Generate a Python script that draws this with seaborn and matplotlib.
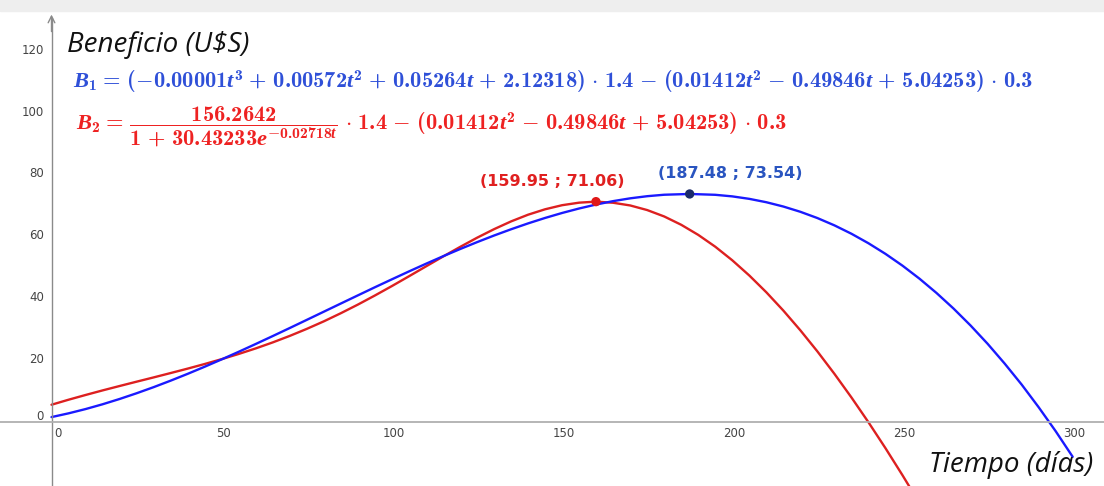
import matplotlib
matplotlib.use("Agg")
import matplotlib.pyplot as plt
import seaborn as sns
import pandas as pd
from matplotlib.patches import Rectangle

# ---- data ----
t_red = [0, 5, 10, 15, 20, 25, 30, 35, 40, 45, 50, 55, 60, 65, 70, 75, 80, 85, 90, 95,
         100, 105, 110, 115, 120, 125, 130, 135, 140, 145, 150, 155, 159.95, 165, 170,
         175, 180, 185, 190, 195, 200, 205, 210, 215, 220, 225, 230, 235, 240, 245,
         250, 255, 260]
b_red = [5.45, 7.07, 8.60, 10.08, 11.50, 12.90, 14.28, 15.69, 17.12, 18.61, 20.18,
         21.86, 23.65, 25.59, 27.69, 29.96, 32.39, 35.02, 37.80, 40.74, 43.79, 46.94,
         50.13, 53.31, 56.41, 59.39, 62.16, 64.67, 66.84, 68.59, 69.91, 70.73, 71.06,
         70.70, 69.83, 68.34, 66.27, 63.58, 60.32, 56.50, 52.11, 47.20, 41.78, 35.87,
         29.49, 22.68, 15.44, 7.81, -0.2, -8.58, -17.32, -26.37, -35.76]
t_blue = [0, 5, 10, 15, 20, 25, 30, 35, 40, 45, 50, 55, 60, 65, 70, 75, 80, 85, 90, 95,
          100, 105, 110, 115, 120, 125, 130, 135, 140, 145, 150, 155, 160, 165, 170,
          175, 180, 187.48, 195, 200, 205, 210, 215, 220, 225, 230, 235, 240, 245,
          250, 255, 260, 265, 270, 275, 280, 285, 290, 295, 300]
b_blue = [1.46, 2.67, 4.05, 5.60, 7.31, 9.16, 11.13, 13.23, 15.43, 17.73, 20.11,
          22.56, 25.08, 27.64, 30.24, 32.87, 35.51, 38.15, 40.78, 43.40, 45.97, 48.51,
          50.99, 53.40, 55.73, 57.97, 60.11, 62.13, 64.03, 65.79, 67.40, 68.85, 70.13,
          71.23, 72.13, 72.82, 73.29, 73.54, 73.27, 72.76, 71.96, 70.87, 69.48, 67.78,
          65.76, 63.40, 60.69, 57.62, 54.19, 50.38, 46.17, 41.55, 36.52, 31.05, 25.15,
          18.77, 11.98, 4.65, -3.09, -11.37]
max_red = (159.95, 71.06)
max_blue = (187.48, 73.54)
label_red = "(159.95 ; 71.06)"
label_blue = "(187.48 ; 73.54)"
x_ticks = [0, 50, 100, 150, 200, 250, 300]
y_ticks = [0, 20, 40, 60, 80, 100, 120]
y_title = "Beneficio (U$S)"
x_title = "Tiempo (días)"
f_blue = (r"$B_1\,=\,(-0.00001t^3\,+\,0.00572t^2\,+\,0.05264t\,+\,2.12318)\,\cdot\,1.4"
          r"\,-\,(0.01412t^2\,-\,0.49846t\,+\,5.04253)\,\cdot\,0.3$")
f_red = (r"$B_2\,=\,\dfrac{156.2642}{1\,+\,30.43233e^{-0.02718t}}\,\cdot\,1.4"
         r"\,-\,(0.01412t^2\,-\,0.49846t\,+\,5.04253)\,\cdot\,0.3$")

sns.set_theme(style="white")
plt.rcParams["font.family"] = ["DejaVu Sans"]
plt.rcParams["mathtext.fontset"] = "custom"
plt.rcParams["mathtext.rm"] = "cmb10"
plt.rcParams["mathtext.bf"] = "cmb10"
plt.rcParams["mathtext.it"] = "Liberation Serif:italic:bold"
plt.rcParams["mathtext.fallback"] = "cm"

RED = "#dd2020"
BLUE = "#1a1aff"

df = pd.concat([
    pd.DataFrame({"t": t_red, "B": b_red, "serie": "B2"}),
    pd.DataFrame({"t": t_blue, "B": b_blue, "serie": "B1"}),
])

fig = plt.figure(figsize=(11.04, 4.86), dpi=100)
ax = fig.add_axes([0, 0, 1, 1])
ax.set_xlim(-15.13, 309.2)
ax.set_ylim(-20.8, 136.2)

sns.lineplot(data=df, x="t", y="B", hue="serie", palette={"B1": BLUE, "B2": RED},
             sort=False, estimator=None, legend=False, linewidth=1.7, ax=ax)

pts = pd.DataFrame({"t": [max_red[0], max_blue[0]], "B": [max_red[1], max_blue[1]],
                    "serie": ["B2", "B1"]})
sns.scatterplot(data=pts, x="t", y="B", hue="serie",
                palette={"B1": "#1a2a6a", "B2": "#e01818"}, s=45, legend=False,
                zorder=5, ax=ax, edgecolor="none")

# axes through origin
for s in ["top", "right"]:
    ax.spines[s].set_visible(False)
ax.spines["left"].set_position(("data", 0))
ax.spines["bottom"].set_position(("data", 0))
ax.spines["left"].set_color("#8a8a8a")
ax.spines["bottom"].set_color("#b0b0b0")
ax.spines["left"].set_bounds(-20.8, 130.5)
ax.spines["left"].set_linewidth(1.0)
ax.spines["bottom"].set_linewidth(1.3)
ax.set_xticks(x_ticks)
ax.set_yticks(y_ticks)
ax.tick_params(labelleft=False, labelbottom=False, length=3, width=0.8,
               color="#999999", direction="inout")
ax.set_xlabel("")
ax.set_ylabel("")
ax.annotate("", xy=(0, 131.5), xytext=(0, 126),
            arrowprops=dict(arrowstyle="->", color="#8a8a8a", lw=1.0,
                            shrinkA=0, shrinkB=0))

for v in x_ticks:
    ax.text(v + (1.9 if v == 0 else 0.6), -4.0, str(v), ha="center", va="center",
            fontsize=8.5, color="#444444")
for v in y_ticks:
    ax.text(-2.2, 1.8 if v == 0 else v, str(v), ha="right", va="center",
            fontsize=8.5, color="#444444")

ax.text(4.6, 121.6, y_title, fontsize=20, fontstyle="italic", family="Open Sans",
        color="#111111", ha="left", va="center")
ax.text(306.0, -14.0, x_title, fontsize=20, fontstyle="italic", family="Open Sans",
        color="#111111", ha="right", va="center")

ax.text(6.3, 107.7, f_blue, fontsize=16.2, color="#2f50d8", ha="left", va="baseline")
ax.text(7.1, 94.2, f_red, fontsize=16.2, color="#ee2222", ha="left", va="baseline")

ax.text(147.0, 77.7, label_red, fontsize=11.5, fontweight="bold", color="#e02020",
        ha="center", va="center")
ax.text(199.3, 80.3, label_blue, fontsize=11.5, fontweight="bold", color="#2a55c0",
        ha="center", va="center")

# screenshot frame
fig.patches.append(Rectangle((0, 1 - 11 / 486), 1, 11 / 486, transform=fig.transFigure,
                             color="#eeeeee", zorder=0))

fig.savefig("out.png", dpi=100)
